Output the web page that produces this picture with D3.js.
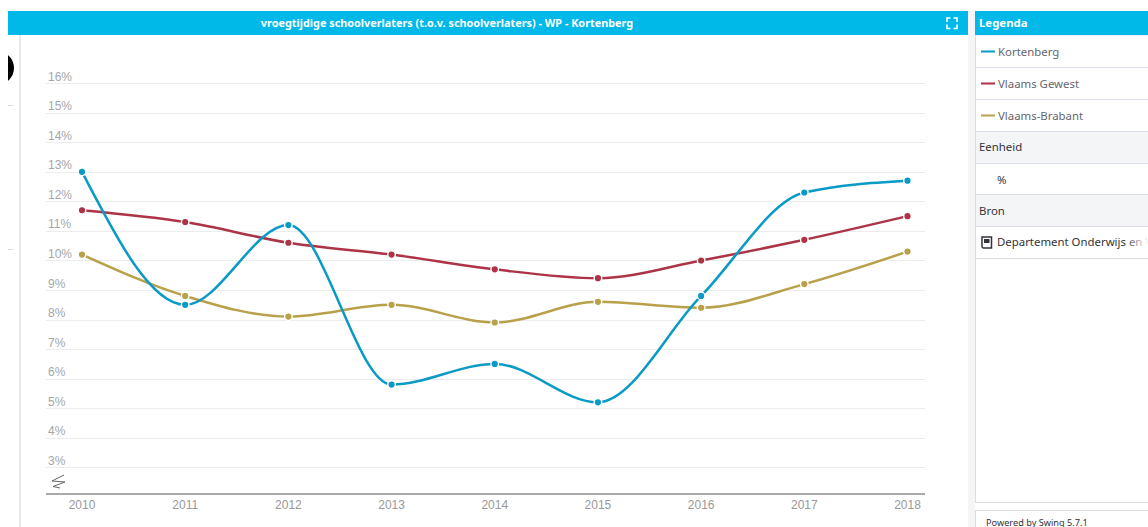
<!DOCTYPE html>
<html>
<head>
<meta charset="utf-8">
<script src="https://cdn.jsdelivr.net/npm/d3@7"></script>
<style>
  html, body { margin: 0; padding: 0; background: #fff; overflow: hidden; }
  svg { display: block; }
  .ui { font-family: "Noto Sans", sans-serif; font-size: 11.4px; }
  .axis { font-family: "Liberation Sans", Arial, sans-serif; font-size: 12px; }
</style>
</head>
<body>
<div id="chart"></div>
<script>
const years = [2010, 2011, 2012, 2013, 2014, 2015, 2016, 2017, 2018];
const kortenberg = [13.0, 8.5, 11.2, 5.8, 6.5, 5.2, 8.8, 12.3, 12.7];
const vlaamsGewest = [11.7, 11.3, 10.6, 10.2, 9.7, 9.4, 10.0, 10.7, 11.5];
const vlaamsBrabant = [10.2, 8.8, 8.1, 8.5, 7.9, 8.6, 8.4, 9.2, 10.3];
const yTicks = [3, 4, 5, 6, 7, 8, 9, 10, 11, 12, 13, 14, 15, 16];
const seriesNames = ["Kortenberg", "Vlaams Gewest", "Vlaams-Brabant"];
const seriesColors = ["#0a9ac6", "#ad3346", "#b9a04a"];
const title = "vroegtijdige schoolverlaters (t.o.v. schoolverlaters) - WP - Kortenberg";

const svg = d3.select("#chart").append("svg")
  .attr("width", 1148)
  .attr("height", 527);

const blue = "#00b9e9";
const border = "#dcdce8";

// linkerrand van het paneel
svg.append("circle").attr("cx", -3).attr("cy", 68).attr("r", 17).attr("fill", "#000");
svg.append("rect").attr("x", 0).attr("y", 0).attr("width", 8).attr("height", 527).attr("fill", "#fff");
svg.append("line").attr("x1", 8).attr("x2", 13).attr("y1", 105.5).attr("y2", 105.5).attr("stroke", "#ddd");
svg.append("line").attr("x1", 8).attr("x2", 13).attr("y1", 249.5).attr("y2", 249.5).attr("stroke", "#ddd");
svg.append("rect").attr("x", 19).attr("y", 35).attr("width", 2).attr("height", 492).attr("fill", "#e8e8f0");

// titelbalk
svg.append("rect").attr("x", 8).attr("y", 11).attr("width", 960).attr("height", 24).attr("fill", blue);
svg.append("text").attr("class", "ui")
  .attr("x", 447).attr("y", 27)
  .attr("text-anchor", "middle")
  .attr("fill", "#fff")
  .attr("font-weight", 700)
  .style("font-size", "10.85px")
  .text(title);
// fullscreen icoon
svg.append("path")
  .attr("d", "M947 22v-4h3.5M953.5 18h3.5v4M957 24.5v4h-3.5M950.5 28.5h-3.5v-4")
  .attr("fill", "none").attr("stroke", "#fff").attr("stroke-width", 1.6);

// schalen
const x = d3.scalePoint().domain(years).range([82, 907.5]);
const y = d3.scaleLinear().domain([3, 16]).range([467.3, 83.2]);
const axisY = 494;

const g = svg.append("g");
g.selectAll(".grid").data(yTicks).enter().append("line")
  .attr("class", "grid")
  .attr("x1", 46).attr("x2", 925)
  .attr("y1", d => Math.round(y(d)) + 0.5).attr("y2", d => Math.round(y(d)) + 0.5)
  .attr("stroke", "#ececec");

g.selectAll(".ylab").data(yTicks).enter().append("text")
  .attr("class", "axis ylab")
  .attr("x", 48).attr("y", d => y(d) - 2.5)
  .attr("fill", "#a6a6a6")
  .text(d => d + "%");

// as onderaan
const xAxis = g.append("g")
  .attr("class", "axis")
  .attr("transform", "translate(-0.5," + axisY + ")")
  .call(d3.axisBottom(x).tickSize(0).tickPadding(6).tickFormat(d3.format("d")));
xAxis.select(".domain").remove();
xAxis.selectAll("text").attr("fill", "#999").style("font-size", "12px");
xAxis.attr("font-family", null).attr("font-size", null);
g.append("line").attr("x1", 46).attr("x2", 925).attr("y1", axisY).attr("y2", axisY)
  .attr("stroke", "#8c8c8c").attr("stroke-width", 1.5);

// asbreuk teken
g.append("path")
  .attr("d", "M64 475L52 481L65 482L53 486.5L60 488")
  .attr("fill", "none").attr("stroke", "#666").attr("stroke-width", 1);

// lijnen
const line = d3.line()
  .x((d, i) => x(years[i]))
  .y(d => y(d))
  .curve(d3.curveMonotoneX);

[vlaamsBrabant, vlaamsGewest, kortenberg].forEach((values, k) => {
  const color = seriesColors[2 - k];
  g.append("path")
    .attr("d", line(values))
    .attr("fill", "none")
    .attr("stroke", color)
    .attr("stroke-width", 2.5);
  g.selectAll(".dot" + k).data(values).enter().append("circle")
    .attr("class", "dot" + k)
    .attr("cx", (d, i) => x(years[i]))
    .attr("cy", d => y(d))
    .attr("r", 3.8)
    .attr("fill", color)
    .attr("stroke", "#fff")
    .attr("stroke-width", 1.4);
});

// legenda paneel
svg.append("rect").attr("x", 968).attr("y", 11).attr("width", 7).attr("height", 516).attr("fill", "#f5f5f7");
svg.append("rect").attr("x", 975.5).attr("y", 35).attr("width", 180).attr("height", 467.5)
  .attr("fill", "#fff").attr("stroke", border);
svg.append("rect").attr("x", 975).attr("y", 11).attr("width", 173).attr("height", 24).attr("fill", blue);
svg.append("text").attr("class", "ui").attr("x", 979).attr("y", 27)
  .attr("fill", "#fff").attr("font-weight", 700).text("Legenda");

const rowLines = [67, 99, 131, 163, 194, 226, 258];
svg.append("rect").attr("x", 976).attr("y", 132).attr("width", 172).attr("height", 31).attr("fill", "#f4f5f7");
svg.append("rect").attr("x", 976).attr("y", 195).attr("width", 172).attr("height", 31).attr("fill", "#f4f5f7");
svg.selectAll(".row").data(rowLines).enter().append("line")
  .attr("class", "row")
  .attr("x1", 976).attr("x2", 1148)
  .attr("y1", d => d + 0.5).attr("y2", d => d + 0.5)
  .attr("stroke", border);

const legendY = [51, 83, 115];
seriesNames.forEach((name, i) => {
  svg.append("line").attr("x1", 981).attr("x2", 995)
    .attr("y1", legendY[i] + 0.5).attr("y2", legendY[i] + 0.5)
    .attr("stroke", seriesColors[i]).attr("stroke-width", 2);
  svg.append("text").attr("class", "ui").attr("x", 998).attr("y", legendY[i] + 4.5)
    .attr("fill", "#66666e").text(name);
});

svg.append("text").attr("class", "ui").attr("x", 979).attr("y", 151).attr("fill", "#33333a").text("Eenheid");
svg.append("text").attr("class", "ui").attr("x", 997).attr("y", 183.5).attr("fill", "#33333a").text("%");
svg.append("text").attr("class", "ui").attr("x", 979).attr("y", 215).attr("fill", "#33333a").text("Bron");

// boek icoon
svg.append("path")
  .attr("d", "M982 237h9.5v11h-8a1.5 1.5 0 0 1-1.5-1.5z")
  .attr("fill", "none").attr("stroke", "#33333a").attr("stroke-width", 1.5);
svg.append("rect").attr("x", 984).attr("y", 239).attr("width", 5.5).attr("height", 4).attr("fill", "#33333a");

svg.append("text").attr("class", "ui").attr("x", 997).attr("y", 246)
  .attr("fill", "#33333a").text("Departement Onderwijs en Vorming");

// tekst loopt weg onder een witte fade
const fade = svg.append("defs").append("linearGradient").attr("id", "fade");
fade.append("stop").attr("offset", "0%").attr("stop-color", "#fff").attr("stop-opacity", 0.1);
fade.append("stop").attr("offset", "100%").attr("stop-color", "#fff").attr("stop-opacity", 0.95);
svg.append("rect").attr("x", 1126).attr("y", 232).attr("width", 22).attr("height", 24).attr("fill", "url(#fade)");

// voettekst
svg.append("rect").attr("x", 975.5).attr("y", 510.5).attr("width", 180).attr("height", 30)
  .attr("fill", "#fff").attr("stroke", border);
svg.append("text").attr("class", "ui").attr("x", 986).attr("y", 526)
  .attr("fill", "#33333a").style("font-size", "9.2px").text("Powered by Swing 5.7.1");
</script>
</body>
</html>
